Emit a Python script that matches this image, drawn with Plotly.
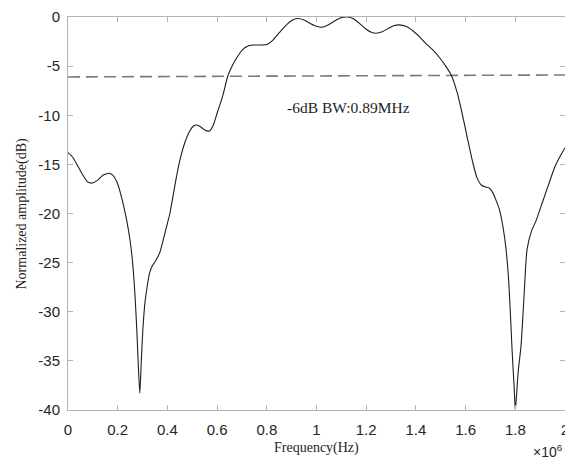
import plotly.graph_objects as go

# Frequency in MHz (axis shown in Hz with x10^6 multiplier)
freq_mhz = [0.000, 0.02, 0.04, 0.06, 0.08, 0.097, 0.12, 0.14, 0.165, 0.18, 0.197, 0.215,
            0.237, 0.25, 0.26, 0.27, 0.277, 0.283, 0.289, 0.295, 0.301, 0.31, 0.32, 0.329,
            0.34, 0.355, 0.369, 0.385, 0.40, 0.41, 0.422, 0.434, 0.45, 0.47, 0.49, 0.505,
            0.518, 0.535, 0.55, 0.57, 0.585, 0.60, 0.623, 0.643, 0.66, 0.683, 0.70, 0.72,
            0.743, 0.77, 0.80, 0.823, 0.85, 0.875, 0.90, 0.924, 0.95, 0.975, 1.00, 1.02,
            1.045, 1.07, 1.095, 1.125, 1.15, 1.175, 1.20, 1.22, 1.24, 1.265, 1.29, 1.31,
            1.333, 1.36, 1.39, 1.414, 1.44, 1.47, 1.494, 1.52, 1.542, 1.565, 1.586, 1.607,
            1.627, 1.645, 1.663, 1.68, 1.695, 1.71, 1.72, 1.735, 1.75, 1.763, 1.775, 1.787,
            1.795, 1.80, 1.805, 1.812, 1.823, 1.835, 1.847, 1.865, 1.884, 1.91, 1.936, 1.96,
            1.98, 2.00]
amp_db = [-13.8, -14.3, -15.2, -16.1, -16.8, -16.9, -16.6, -16.1, -15.9, -16.1, -16.8, -18.3,
          -20.8, -22.8, -25.0, -28.5, -31.9, -35.5, -38.3, -35.0, -31.9, -29.0, -27.2, -26.0,
          -25.3, -24.7, -24.0, -22.5, -21.0, -20.0, -18.3, -16.6, -14.6, -12.8, -11.6, -11.1,
          -11.0, -11.2, -11.5, -11.6, -11.0, -9.8, -8.0, -6.0, -5.0, -4.0, -3.4, -3.0,
          -2.85, -2.85, -2.8, -2.4, -1.6, -0.9, -0.35, -0.15, -0.3, -0.65, -0.95, -1.05,
          -0.85, -0.45, -0.1, 0.0, -0.2, -0.7, -1.25, -1.55, -1.65, -1.5, -1.15, -0.9,
          -0.8, -0.95, -1.45, -2.0, -2.7, -3.4, -4.1, -5.0, -5.9, -7.6, -9.8, -12.3,
          -14.6, -16.3, -17.1, -17.3, -17.4, -17.9, -18.5, -19.5, -21.3, -23.7, -27.5, -33.9,
          -37.5, -40.0, -38.5, -36.0, -33.5, -28.5, -23.7, -21.8, -20.7, -18.8, -16.9, -15.2,
          -14.2, -13.3]

ref_x_mhz = [0.0, 2.0]
ref_db = [-6.1, -5.9]

x_tick_vals_mhz = [0, 0.2, 0.4, 0.6, 0.8, 1.0, 1.2, 1.4, 1.6, 1.8, 2.0]
x_tick_text = ["0", "0.2", "0.4", "0.6", "0.8", "1", "1.2", "1.4", "1.6", "1.8", "2"]
y_tick_vals = [0, -5, -10, -15, -20, -25, -30, -35, -40]
y_tick_text = ["0", "-5", "-10", "-15", "-20", "-25", "-30", "-35", "-40"]

bw_label = "-6dB BW:0.89MHz"
bw_label_pos_mhz = 1.128
bw_label_pos_db = -9.25

freq_hz = [f * 1e6 for f in freq_mhz]
ref_x_hz = [f * 1e6 for f in ref_x_mhz]
x_tick_vals = [v * 1e6 for v in x_tick_vals_mhz]

fig = go.Figure()
fig.add_trace(go.Scatter(x=ref_x_hz, y=ref_db, mode="lines",
                         line=dict(color="#7a7a7a", width=1.6, dash="12px,6px"),
                         hoverinfo="skip", showlegend=False))
fig.add_trace(go.Scatter(x=freq_hz, y=amp_db, mode="lines",
                         line=dict(color="#1e1e1e", width=1.1, shape="spline", smoothing=0.6),
                         showlegend=False))

axis_col = "#b4b4b4"
tick_font = dict(family="Liberation Sans, Arial, sans-serif", size=15, color="#262626")
fig.update_xaxes(range=[0, 2e6], tickvals=x_tick_vals, ticktext=x_tick_text,
                 showgrid=False, zeroline=False, showline=True, linecolor=axis_col,
                 linewidth=1, mirror="ticks", ticks="inside", ticklen=5,
                 tickcolor=axis_col, tickfont=tick_font, ticklabelstandoff=6,
                 automargin=False, ticklabeloverflow="allow")
fig.update_yaxes(range=[-40, 0], tickvals=y_tick_vals, ticktext=y_tick_text,
                 showgrid=False, zeroline=False, showline=True, linecolor=axis_col,
                 linewidth=1, mirror="ticks", ticks="inside", ticklen=5,
                 tickcolor=axis_col, tickfont=tick_font, ticklabelstandoff=4,
                 automargin=False, ticklabeloverflow="allow")

serif = "Liberation Serif, Times New Roman, serif"
fig.add_annotation(x=bw_label_pos_mhz * 1e6, y=bw_label_pos_db, xref="x", yref="y",
                   text=bw_label, showarrow=False,
                   font=dict(family=serif, size=15.5, color="#1e1e1e"), xanchor="center")
fig.add_annotation(x=0.5, y=0, xref="paper", yref="paper", yanchor="top",
                   text="Frequency(Hz)", showarrow=False, yshift=-28,
                   font=dict(family=serif, size=14, color="#1e1e1e"))
fig.add_annotation(x=0, y=0.5, xref="paper", yref="paper", xanchor="right",
                   text="Normalized amplitude(dB)", showarrow=False, textangle=-90,
                   xshift=-37, font=dict(family=serif, size=14, color="#1e1e1e"))
fig.add_annotation(x=1, y=0, xref="paper", yref="paper", xanchor="right", yanchor="top",
                   text="×10<sup>6</sup>", showarrow=False, yshift=-30,
                   font=dict(family="Liberation Sans, Arial, sans-serif", size=14, color="#262626"))

fig.update_layout(width=565, height=459, margin=dict(l=68, r=0, t=17, b=49),
                  plot_bgcolor="white", paper_bgcolor="white")

fig.write_html("out.html", config={"displayModeBar": False},
               post_script="document.body.style.margin='0';document.body.style.overflow='hidden';")
